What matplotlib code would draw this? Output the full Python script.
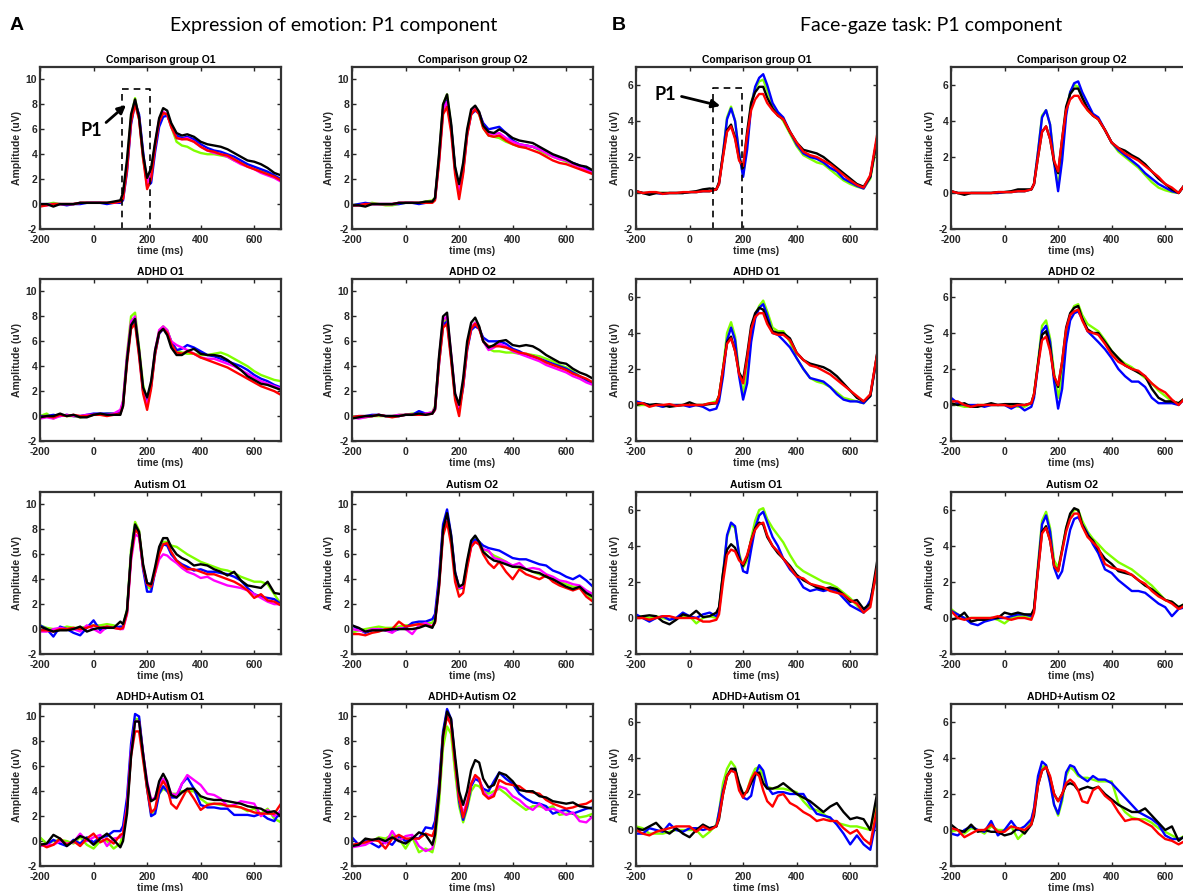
import matplotlib.pyplot as plt

plt.rcParams['font.family'] = ['Liberation Sans', 'DejaVu Sans']
plt.rcParams['axes.unicode_minus'] = False

# sample times (ms): baseline every 25 ms, denser around P1/P2, then every 25 ms
time_ms = [-200, -175, -150, -125, -100, -75, -50, -25, 0, 25, 50, 75, 100,
           110, 125, 140, 155, 170, 185, 200, 215, 230, 245, 260, 275, 290,
           310, 330, 350, 375, 400, 425, 450, 475, 500, 525, 550, 575, 600, 625, 650, 675, 700]

# ---------------- Expression of emotion (A) ----------------
emo_ctrl_o1_green = [-0.1, 0.0, 0.1, 0.0, 0.0, 0.0, 0.1, 0.1, 0.1, 0.1, 0.1, 0.1, 0.2,
                     0.6, 3.2, 7.0, 8.5, 6.8, 3.6, 1.9, 2.6, 4.8, 6.7, 7.3, 7.2, 6.2,
                     5.0, 4.7, 4.6, 4.3, 4.1, 4.0, 4.0, 3.9, 3.8, 3.5, 3.3, 3.1, 2.9, 2.7, 2.5, 2.2, 1.9]
emo_ctrl_o1_blue = [0.0, 0.0, 0.0, 0.0, -0.1, 0.0, 0.0, 0.1, 0.1, 0.1, 0.0, 0.1, 0.1,
                    0.3, 2.6, 6.4, 8.1, 7.2, 4.2, 1.4, 1.7, 4.2, 6.2, 7.0, 7.1, 6.4,
                    5.5, 5.3, 5.4, 5.2, 4.8, 4.5, 4.3, 4.2, 4.0, 3.8, 3.5, 3.2, 3.0, 2.8, 2.6, 2.3, 2.0]
emo_ctrl_o1_magenta = [-0.1, -0.1, 0.0, 0.0, 0.0, 0.0, 0.1, 0.1, 0.1, 0.1, 0.1, 0.1, 0.2,
                       0.5, 3.0, 6.8, 8.3, 6.9, 3.8, 1.7, 2.4, 4.8, 6.8, 7.4, 7.2, 6.2,
                       5.3, 5.2, 5.3, 5.0, 4.6, 4.3, 4.1, 4.0, 3.8, 3.5, 3.2, 3.0, 2.8, 2.5, 2.3, 2.1, 1.8]
emo_ctrl_o1_red = [-0.2, -0.1, 0.0, 0.0, 0.0, 0.0, 0.1, 0.1, 0.1, 0.1, 0.1, 0.1, 0.2,
                   0.4, 2.8, 6.6, 8.0, 6.8, 3.7, 1.2, 2.0, 4.6, 6.6, 7.3, 7.2, 6.2,
                   5.3, 5.2, 5.2, 5.0, 4.6, 4.3, 4.2, 4.0, 3.9, 3.6, 3.3, 3.0, 2.8, 2.6, 2.4, 2.2, 1.9]
emo_ctrl_o1_black = [0.0, 0.0, -0.2, 0.0, 0.0, 0.0, 0.1, 0.1, 0.1, 0.1, 0.1, 0.2, 0.3,
                     0.9, 3.6, 7.2, 8.4, 7.0, 4.0, 2.1, 2.9, 5.0, 6.9, 7.7, 7.5, 6.5,
                     5.7, 5.5, 5.6, 5.4, 5.0, 4.8, 4.7, 4.6, 4.4, 4.1, 3.8, 3.5, 3.4, 3.2, 2.9, 2.5, 2.3]

emo_ctrl_o2_green = [-0.1, 0.0, 0.0, 0.1, 0.0, -0.1, -0.1, 0.0, 0.1, 0.1, 0.1, 0.2, 0.3,
                     0.5, 3.8, 8.0, 8.8, 6.3, 2.8, 1.2, 3.0, 5.8, 7.4, 7.8, 7.2, 6.1,
                     5.5, 5.4, 5.3, 5.0, 4.8, 4.6, 4.7, 4.6, 4.3, 4.0, 3.8, 3.6, 3.4, 3.2, 3.0, 2.8, 2.6]
emo_ctrl_o2_blue = [-0.1, 0.0, 0.1, 0.0, 0.0, 0.0, 0.0, 0.0, 0.1, 0.1, 0.0, 0.1, 0.2,
                    0.4, 3.5, 7.6, 8.3, 6.3, 2.8, 0.8, 2.6, 5.6, 7.2, 7.5, 7.3, 6.5,
                    6.0, 6.1, 6.2, 5.7, 5.1, 4.8, 4.7, 4.6, 4.4, 4.2, 3.9, 3.7, 3.5, 3.3, 3.1, 2.8, 2.5]
emo_ctrl_o2_magenta = [-0.1, -0.1, 0.0, 0.0, 0.0, 0.0, 0.0, 0.1, 0.1, 0.1, 0.1, 0.1, 0.2,
                       0.4, 3.6, 7.6, 8.2, 6.1, 2.7, 1.0, 2.8, 5.7, 7.3, 7.7, 7.3, 6.3,
                       5.7, 5.6, 5.7, 5.3, 5.0, 4.8, 4.7, 4.6, 4.4, 4.1, 3.8, 3.6, 3.5, 3.2, 3.0, 2.7, 2.5]
emo_ctrl_o2_red = [-0.1, -0.1, 0.0, 0.0, 0.0, 0.0, 0.0, 0.1, 0.1, 0.1, 0.1, 0.1, 0.1,
                   0.3, 3.3, 7.2, 7.8, 5.8, 2.4, 0.4, 2.4, 5.5, 7.2, 7.6, 7.2, 6.1,
                   5.5, 5.4, 5.5, 5.1, 4.8, 4.6, 4.5, 4.3, 4.1, 3.8, 3.5, 3.3, 3.2, 3.0, 2.8, 2.6, 2.4]
emo_ctrl_o2_black = [-0.1, -0.1, -0.2, 0.0, 0.0, 0.0, 0.0, 0.1, 0.1, 0.1, 0.1, 0.2, 0.2,
                     0.5, 4.0, 8.0, 8.8, 6.5, 3.0, 1.6, 3.3, 6.0, 7.6, 7.9, 7.4, 6.3,
                     5.8, 5.7, 6.0, 5.7, 5.3, 5.1, 5.0, 4.9, 4.6, 4.3, 4.0, 3.8, 3.6, 3.3, 3.1, 3.0, 2.7]

emo_adhd_o1_green = [0.0, 0.2, -0.2, 0.1, 0.0, 0.0, -0.1, 0.0, 0.1, 0.1, 0.2, 0.2, 0.3,
                     1.2, 5.0, 8.0, 8.3, 5.5, 2.5, 1.2, 2.5, 5.2, 6.8, 7.2, 6.9, 6.0,
                     5.3, 5.1, 5.0, 5.0, 4.9, 4.9, 5.0, 5.1, 4.9, 4.6, 4.3, 4.0, 3.6, 3.3, 3.1, 2.9, 2.8]
emo_adhd_o1_blue = [0.0, 0.0, 0.1, 0.0, 0.1, 0.0, 0.0, 0.1, 0.2, 0.2, 0.2, 0.2, 0.3,
                    1.0, 4.5, 7.2, 7.6, 5.0, 2.0, 1.0, 2.4, 5.0, 6.6, 7.0, 6.8, 6.0,
                    5.3, 5.4, 5.7, 5.5, 5.2, 4.9, 4.8, 4.6, 4.4, 4.2, 4.0, 3.7, 3.3, 3.0, 2.8, 2.5, 2.3]
emo_adhd_o1_magenta = [-0.2, -0.1, -0.2, 0.0, 0.1, 0.0, 0.0, 0.1, 0.1, 0.1, 0.1, 0.2, 0.5,
                       1.2, 4.8, 7.6, 8.0, 5.2, 2.0, 0.8, 2.5, 5.3, 6.9, 7.2, 6.9, 6.0,
                       5.7, 5.5, 5.3, 5.0, 4.7, 4.6, 4.6, 4.4, 4.2, 4.0, 3.7, 3.4, 3.1, 2.8, 2.6, 2.4, 2.2]
emo_adhd_o1_red = [-0.1, 0.0, -0.1, 0.1, 0.0, 0.1, 0.0, 0.0, 0.1, 0.1, 0.0, 0.1, 0.2,
                   0.8, 4.2, 7.0, 7.4, 4.8, 1.8, 0.5, 2.2, 5.0, 6.7, 7.0, 6.7, 5.8,
                   5.1, 5.0, 5.2, 5.0, 4.7, 4.5, 4.3, 4.1, 3.9, 3.6, 3.3, 3.0, 2.7, 2.4, 2.2, 2.0, 1.7]
emo_adhd_o1_black = [-0.1, 0.0, 0.0, 0.2, 0.0, 0.1, -0.1, -0.1, 0.1, 0.2, 0.1, 0.1, 0.1,
                     0.8, 4.5, 7.3, 7.8, 5.3, 2.3, 1.5, 2.8, 5.3, 6.7, 7.0, 6.5, 5.5,
                     4.9, 4.9, 5.2, 5.4, 5.0, 4.9, 4.9, 4.8, 4.5, 4.1, 3.7, 3.2, 2.9, 2.6, 2.5, 2.3, 2.1]

emo_adhd_o2_green = [0.0, -0.1, -0.1, 0.0, 0.0, 0.0, 0.0, 0.1, 0.1, 0.2, 0.2, 0.2, 0.3,
                     0.8, 4.6, 7.5, 7.8, 4.8, 1.6, 0.5, 2.6, 5.6, 7.1, 7.5, 7.1, 6.0,
                     5.4, 5.2, 5.2, 5.1, 5.1, 5.0, 5.0, 4.9, 4.8, 4.6, 4.4, 4.1, 3.9, 3.6, 3.2, 2.9, 2.6]
emo_adhd_o2_blue = [-0.1, 0.0, 0.0, 0.1, 0.1, 0.0, 0.0, 0.0, 0.1, 0.1, 0.4, 0.2, 0.2,
                    0.5, 4.2, 7.3, 7.6, 4.8, 1.6, 0.5, 2.3, 5.3, 6.9, 7.2, 7.0, 6.3,
                    6.0, 6.0, 6.0, 5.8, 5.4, 5.2, 4.9, 4.8, 4.6, 4.4, 4.2, 4.0, 3.8, 3.5, 3.2, 2.9, 2.6]
emo_adhd_o2_magenta = [-0.1, -0.2, -0.1, 0.0, 0.1, 0.0, 0.0, 0.1, 0.1, 0.1, 0.1, 0.2, 0.3,
                       0.7, 4.6, 7.7, 8.0, 5.0, 1.8, 0.7, 2.6, 5.6, 7.1, 7.5, 7.1, 6.0,
                       5.3, 5.5, 5.8, 5.6, 5.2, 5.0, 4.8, 4.6, 4.4, 4.1, 3.9, 3.7, 3.5, 3.2, 3.0, 2.7, 2.5]
emo_adhd_o2_red = [-0.1, 0.0, 0.0, 0.0, 0.1, 0.0, -0.1, 0.0, 0.1, 0.1, 0.1, 0.1, 0.2,
                   0.5, 4.2, 7.1, 7.4, 4.5, 1.3, 0.0, 2.4, 5.4, 7.0, 7.4, 7.0, 6.0,
                   5.6, 5.6, 5.6, 5.5, 5.3, 5.1, 5.0, 4.8, 4.6, 4.3, 4.1, 3.9, 3.7, 3.4, 3.2, 3.0, 2.7]
emo_adhd_o2_black = [-0.2, -0.1, 0.0, 0.0, 0.1, 0.0, 0.0, 0.0, 0.1, 0.1, 0.2, 0.1, 0.2,
                     0.6, 4.8, 8.0, 8.3, 5.0, 1.8, 0.9, 3.0, 6.0, 7.5, 7.9, 7.2, 6.0,
                     5.5, 5.7, 6.0, 6.1, 5.7, 5.6, 5.7, 5.6, 5.3, 4.9, 4.6, 4.3, 4.2, 3.8, 3.5, 3.3, 3.0]

emo_asd_o1_green = [0.3, 0.1, 0.0, 0.0, 0.2, 0.1, 0.1, 0.2, 0.3, 0.3, 0.4, 0.3, 0.1,
                    0.2, 1.6, 6.4, 8.6, 7.9, 5.0, 3.4, 3.2, 4.8, 6.4, 7.0, 7.0, 6.7,
                    6.6, 6.3, 6.0, 5.7, 5.4, 5.2, 5.0, 4.8, 4.7, 4.5, 4.2, 4.0, 3.8, 3.8, 3.6, 2.8, 2.0]
emo_asd_o1_blue = [0.3, 0.0, -0.6, 0.2, 0.0, -0.3, -0.5, 0.1, 0.7, -0.1, 0.1, 0.1, 0.2,
                   0.2, 1.4, 6.0, 8.3, 7.6, 4.8, 3.0, 3.0, 4.6, 6.2, 6.8, 6.7, 6.0,
                   5.5, 5.2, 5.0, 4.7, 4.8, 4.6, 4.6, 4.5, 4.4, 4.2, 3.9, 3.3, 2.8, 2.6, 2.5, 2.4, 2.0]
emo_asd_o1_magenta = [-0.2, -0.2, 0.0, 0.1, 0.0, 0.0, -0.2, 0.3, 0.0, -0.3, 0.2, 0.1, 0.0,
                      0.0, 1.2, 5.5, 7.6, 7.4, 5.0, 3.6, 3.6, 4.5, 5.6, 6.0, 5.9, 5.6,
                      5.3, 4.9, 4.6, 4.4, 4.1, 4.2, 3.9, 3.7, 3.5, 3.4, 3.3, 3.1, 2.8, 2.5, 2.2, 2.0, 2.0]
emo_asd_o1_red = [-0.1, -0.1, -0.2, 0.0, 0.0, 0.1, 0.0, 0.1, 0.3, 0.1, 0.2, 0.1, 0.0,
                  0.1, 1.3, 5.8, 8.0, 7.6, 5.0, 3.6, 3.4, 4.6, 6.0, 6.8, 6.9, 6.2,
                  5.5, 5.1, 4.8, 4.8, 4.6, 4.4, 4.4, 4.2, 4.0, 3.8, 3.5, 3.1, 2.5, 2.8, 2.3, 2.2, 1.9]
emo_asd_o1_black = [0.2, 0.0, -0.2, -0.1, -0.1, 0.0, 0.2, -0.2, 0.0, 0.1, 0.1, 0.1, 0.6,
                    0.4, 1.5, 6.0, 8.4, 7.8, 5.2, 3.7, 3.6, 5.0, 6.6, 7.3, 7.3, 6.6,
                    6.0, 5.7, 5.5, 5.1, 5.2, 5.1, 4.8, 4.6, 4.3, 4.6, 3.9, 3.5, 3.4, 3.3, 3.8, 2.9, 2.8]

emo_asd_o2_green = [-0.3, -0.1, 0.0, 0.1, 0.2, 0.1, 0.1, 0.2, 0.3, 0.3, 0.4, 0.5, 0.5,
                    1.0, 3.8, 7.8, 9.0, 7.2, 4.4, 3.2, 3.4, 5.3, 6.9, 7.3, 7.0, 6.4,
                    6.2, 5.9, 5.7, 5.4, 5.0, 4.9, 4.8, 4.6, 4.4, 4.2, 4.0, 3.8, 3.6, 3.4, 3.3, 2.8, 2.4]
emo_asd_o2_blue = [0.3, 0.0, -0.3, -0.1, 0.0, -0.1, -0.2, 0.0, 0.1, 0.5, 0.6, 0.6, 0.8,
                   1.2, 4.2, 8.4, 9.6, 7.6, 4.6, 3.3, 3.3, 5.2, 6.8, 7.2, 7.0, 6.7,
                   6.5, 6.4, 6.3, 6.0, 5.7, 5.6, 5.6, 5.4, 5.2, 5.1, 4.7, 4.5, 4.2, 4.0, 4.3, 3.9, 3.4]
emo_asd_o2_magenta = [0.0, -0.1, -0.2, 0.0, 0.0, -0.1, -0.3, 0.1, 0.0, -0.4, 0.3, 0.5, 0.2,
                      0.6, 3.6, 7.8, 9.0, 7.2, 4.4, 3.3, 3.4, 5.1, 6.6, 7.0, 6.8, 6.4,
                      6.3, 5.7, 5.6, 5.4, 5.1, 5.3, 4.8, 4.9, 4.8, 4.4, 4.2, 3.9, 3.8, 3.6, 3.5, 3.1, 2.8]
emo_asd_o2_red = [-0.4, -0.4, -0.5, -0.3, -0.2, 0.0, 0.0, 0.6, 0.2, 0.3, 0.4, 0.3, 0.2,
                  0.5, 3.3, 7.5, 8.6, 6.8, 3.8, 2.6, 2.9, 4.9, 6.6, 7.0, 6.8, 6.0,
                  5.3, 4.9, 5.4, 4.6, 4.0, 4.8, 4.4, 4.2, 4.0, 4.3, 3.8, 3.5, 3.3, 3.1, 3.3, 2.6, 2.2]
emo_asd_o2_black = [0.3, 0.1, -0.2, -0.1, -0.1, -0.1, 0.0, 0.0, 0.0, 0.0, 0.1, 0.3, 0.1,
                    0.6, 3.5, 8.0, 9.3, 7.5, 4.5, 3.4, 3.6, 5.5, 7.1, 7.5, 7.0, 6.2,
                    5.8, 5.5, 5.4, 5.2, 5.0, 5.0, 4.8, 4.6, 4.5, 4.2, 4.0, 3.7, 3.4, 3.2, 3.4, 2.9, 2.6]

emo_both_o1_green = [0.3, -0.2, 0.0, 0.1, 0.0, -0.2, 0.3, -0.3, -0.6, 0.0, 0.0, -0.6, -0.2,
                     0.6, 2.8, 7.2, 9.8, 9.8, 6.8, 4.2, 2.2, 2.5, 3.8, 4.2, 4.0, 3.8,
                     3.8, 4.0, 4.0, 4.0, 3.4, 3.0, 3.0, 2.9, 2.9, 2.8, 2.7, 2.4, 2.6, 2.2, 2.6, 1.8, 1.5]
emo_both_o1_blue = [-0.3, -0.3, 0.1, -0.2, -0.4, 0.1, -0.2, 0.3, -0.1, 0.3, 0.4, 0.8, 0.8,
                    1.2, 3.5, 7.8, 10.2, 10.0, 7.0, 4.2, 2.0, 2.2, 3.8, 4.4, 4.0, 3.5,
                    3.5, 4.6, 5.1, 4.2, 2.9, 2.7, 2.7, 2.6, 2.6, 2.1, 2.1, 2.1, 2.0, 2.2, 1.8, 1.6, 2.5]
emo_both_o1_magenta = [-0.4, -0.3, -0.3, 0.0, -0.2, -0.1, 0.6, 0.0, 0.3, 0.5, -0.4, 0.2, 0.3,
                       0.6, 2.8, 7.2, 9.6, 9.6, 7.0, 4.8, 3.3, 3.5, 4.6, 5.0, 4.6, 3.8,
                       3.7, 4.6, 5.3, 4.9, 4.5, 3.8, 3.7, 3.4, 2.8, 2.9, 3.2, 3.1, 3.0, 2.0, 2.5, 2.0, 2.4]
emo_both_o1_red = [-0.2, -0.5, -0.3, 0.2, -0.3, 0.0, -0.4, 0.2, 0.6, -0.1, 0.2, -0.2, 0.5,
                   0.6, 2.6, 6.8, 8.8, 8.8, 6.5, 4.2, 2.3, 2.6, 4.2, 4.8, 4.3, 3.0,
                   2.6, 3.4, 4.2, 3.4, 2.5, 2.9, 3.0, 3.0, 2.8, 2.8, 2.7, 2.5, 2.3, 2.2, 2.2, 2.2, 3.0]
emo_both_o1_black = [-0.3, -0.2, 0.5, 0.2, -0.4, 0.0, 0.4, 0.2, -0.3, 0.2, 0.6, 0.1, -0.5,
                     0.0, 2.2, 6.8, 9.6, 9.6, 7.0, 4.6, 3.2, 3.4, 4.8, 5.4, 4.8, 3.7,
                     3.5, 3.9, 4.2, 4.2, 3.6, 3.4, 3.3, 3.3, 3.2, 3.1, 3.0, 2.8, 2.7, 2.6, 2.3, 2.4, 2.0]

emo_both_o2_green = [-0.4, -0.3, -0.1, 0.0, 0.3, 0.2, 0.5, 0.2, -0.6, 0.3, -0.9, -0.6, -0.9,
                     0.0, 3.0, 7.5, 9.2, 8.6, 5.5, 2.8, 1.5, 2.6, 4.0, 4.5, 4.4, 4.0,
                     3.8, 4.0, 4.2, 3.8, 3.3, 2.9, 2.5, 2.8, 2.8, 2.6, 2.8, 2.1, 2.2, 2.2, 1.9, 2.0, 2.2]
emo_both_o2_blue = [0.3, -0.3, 0.1, -0.2, -0.5, 0.0, -0.3, 0.4, 0.0, 0.3, 0.2, 1.1, 1.0,
                    1.6, 4.6, 8.8, 10.6, 9.8, 6.4, 3.2, 1.7, 2.8, 4.4, 5.0, 4.8, 4.2,
                    4.0, 4.8, 5.5, 5.0, 4.6, 3.8, 3.4, 3.1, 3.0, 2.8, 2.2, 2.4, 2.5, 2.2, 2.4, 2.6, 2.7]
emo_both_o2_magenta = [-0.5, -0.4, -0.3, 0.0, 0.2, -0.2, 0.8, 0.0, 0.4, 0.5, -0.4, -0.8, -0.6,
                       0.6, 3.8, 8.4, 10.2, 9.6, 6.4, 3.5, 2.2, 3.2, 4.6, 5.2, 5.0, 4.0,
                       3.5, 3.8, 4.4, 4.2, 3.6, 3.3, 2.8, 2.5, 3.0, 2.5, 2.6, 2.4, 2.1, 2.3, 1.6, 1.5, 2.0]
emo_both_o2_red = [-0.3, -0.2, -0.1, 0.1, 0.0, -0.6, 0.2, 0.5, 0.2, 0.2, 0.2, 0.6, 0.4,
                   1.0, 4.0, 8.4, 10.0, 9.3, 6.3, 3.5, 1.9, 3.0, 4.6, 5.3, 5.0, 3.8,
                   3.4, 3.6, 4.9, 4.6, 4.5, 4.4, 4.0, 3.9, 3.8, 3.3, 3.0, 2.8, 2.6, 2.7, 2.9, 3.0, 3.3]
emo_both_o2_black = [-0.4, -0.3, 0.2, 0.1, 0.2, 0.0, 0.3, 0.0, -0.2, 0.2, 0.7, 0.5, -0.3,
                     0.5, 3.8, 8.5, 10.4, 9.8, 6.8, 4.0, 2.9, 4.0, 5.7, 6.5, 6.3, 5.0,
                     4.3, 4.5, 5.5, 5.3, 4.8, 4.1, 4.0, 4.0, 3.6, 3.5, 3.2, 3.1, 3.0, 3.1, 2.8, 2.7, 2.6]

# ---------------- Face-gaze task (B) ----------------
gaze_ctrl_o1_green = [0.1, 0.0, 0.0, 0.0, 0.0, 0.0, 0.0, 0.0, 0.05, 0.05, 0.1, 0.1, 0.2,
                      0.5, 2.2, 4.2, 4.8, 4.0, 2.2, 1.0, 2.8, 5.0, 5.8, 6.2, 6.3, 5.7,
                      4.9, 4.4, 4.0, 3.3, 2.6, 2.1, 1.9, 1.7, 1.6, 1.3, 1.0, 0.7, 0.5, 0.35, 0.25, 0.8, 2.8]
gaze_ctrl_o1_blue = [0.1, 0.0, 0.0, 0.0, -0.05, 0.0, 0.0, 0.0, 0.05, 0.05, 0.1, 0.1, 0.2,
                     0.5, 2.2, 4.1, 4.7, 4.0, 2.2, 0.9, 2.4, 4.8, 5.9, 6.4, 6.6, 6.0,
                     5.0, 4.5, 4.2, 3.4, 2.7, 2.2, 2.0, 1.9, 1.7, 1.4, 1.2, 0.8, 0.6, 0.4, 0.25, 0.9, 3.0]
gaze_ctrl_o1_black = [0.1, 0.0, -0.1, 0.0, 0.0, 0.0, 0.0, 0.0, 0.05, 0.1, 0.2, 0.25, 0.2,
                      0.6, 2.1, 3.5, 3.8, 3.1, 1.9, 1.4, 3.4, 5.0, 5.6, 5.9, 5.9, 5.3,
                      4.7, 4.3, 4.1, 3.4, 2.8, 2.4, 2.3, 2.2, 2.0, 1.7, 1.4, 1.1, 0.8, 0.5, 0.35, 0.9, 3.0]
gaze_ctrl_o1_red = [0.1, 0.0, 0.05, 0.05, -0.05, 0.0, 0.0, 0.05, 0.05, 0.05, 0.1, 0.1, 0.2,
                    0.5, 2.0, 3.4, 3.7, 3.0, 1.8, 1.5, 3.2, 4.6, 5.2, 5.5, 5.5, 5.0,
                    4.6, 4.3, 4.1, 3.4, 2.8, 2.3, 2.1, 2.0, 1.8, 1.6, 1.3, 1.0, 0.7, 0.45, 0.3, 1.0, 3.2]

gaze_ctrl_o2_green = [0.1, 0.0, 0.0, 0.0, 0.0, 0.0, 0.0, 0.0, 0.05, 0.05, 0.1, 0.1, 0.2,
                      0.5, 2.3, 4.3, 4.6, 3.8, 1.8, 0.3, 2.2, 4.6, 5.6, 6.0, 5.9, 5.3,
                      4.6, 4.3, 4.1, 3.5, 2.8, 2.3, 2.0, 1.7, 1.4, 1.0, 0.6, 0.3, 0.15, 0.05, 0.0, 0.5, 2.8]
gaze_ctrl_o2_blue = [0.1, 0.0, 0.0, 0.0, 0.0, 0.0, 0.0, 0.0, 0.05, 0.05, 0.1, 0.1, 0.2,
                     0.5, 2.3, 4.2, 4.6, 3.8, 1.7, 0.1, 1.8, 4.3, 5.6, 6.1, 6.2, 5.6,
                     5.0, 4.4, 4.2, 3.5, 2.8, 2.4, 2.1, 1.8, 1.5, 1.1, 0.8, 0.5, 0.3, 0.1, 0.0, 0.5, 2.8]
gaze_ctrl_o2_black = [0.1, 0.0, -0.1, 0.0, 0.0, 0.0, 0.0, 0.05, 0.05, 0.1, 0.2, 0.2, 0.2,
                      0.5, 2.0, 3.4, 3.7, 3.0, 1.7, 1.1, 3.0, 4.8, 5.5, 5.8, 5.8, 5.3,
                      4.7, 4.3, 4.1, 3.5, 2.8, 2.5, 2.35, 2.1, 1.9, 1.6, 1.2, 0.8, 0.5, 0.2, 0.0, 0.5, 2.8]
gaze_ctrl_o2_red = [0.1, 0.0, 0.0, 0.0, 0.0, 0.0, 0.0, 0.05, 0.05, 0.05, 0.1, 0.1, 0.2,
                    0.5, 2.0, 3.4, 3.7, 3.0, 1.8, 1.2, 3.0, 4.6, 5.2, 5.4, 5.4, 5.0,
                    4.6, 4.3, 4.1, 3.5, 2.8, 2.5, 2.2, 2.0, 1.8, 1.5, 1.2, 0.9, 0.5, 0.3, 0.0, 0.5, 2.8]

gaze_adhd_o1_green = [0.0, 0.0, 0.0, 0.0, -0.1, 0.0, 0.0, 0.0, 0.0, 0.0, 0.0, 0.1, 0.2,
                      0.5, 2.0, 4.0, 4.6, 3.8, 1.8, 0.7, 1.8, 4.0, 5.0, 5.5, 5.8, 5.2,
                      4.3, 4.1, 4.1, 3.5, 2.6, 2.0, 1.5, 1.3, 1.2, 1.0, 0.7, 0.4, 0.3, 0.2, 0.1, 0.5, 2.7]
gaze_adhd_o1_blue = [0.2, 0.1, 0.0, 0.0, -0.1, 0.0, 0.0, 0.0, -0.1, 0.0, -0.1, -0.3, -0.2,
                     0.2, 1.6, 3.6, 4.3, 3.6, 1.6, 0.3, 1.2, 3.5, 4.8, 5.4, 5.6, 5.0,
                     4.0, 3.9, 3.6, 3.2, 2.6, 2.0, 1.5, 1.4, 1.3, 1.0, 0.6, 0.3, 0.2, 0.2, 0.1, 0.5, 2.7]
gaze_adhd_o1_black = [0.0, 0.1, 0.0, 0.05, 0.0, -0.1, -0.05, 0.0, 0.15, 0.0, 0.0, 0.05, 0.1,
                      0.5, 2.0, 3.5, 3.8, 3.0, 1.8, 1.4, 2.8, 4.4, 5.1, 5.4, 5.3, 4.7,
                      4.1, 4.0, 4.0, 3.7, 2.9, 2.5, 2.3, 2.2, 2.1, 1.9, 1.6, 1.2, 0.8, 0.4, 0.2, 0.5, 2.8]
gaze_adhd_o1_red = [0.1, 0.1, -0.1, 0.0, 0.0, 0.05, -0.05, 0.0, 0.0, 0.0, 0.0, 0.1, 0.1,
                    0.5, 2.0, 3.4, 3.7, 3.0, 1.7, 1.2, 2.6, 4.2, 4.9, 5.1, 5.1, 4.5,
                    4.0, 3.9, 3.9, 3.6, 2.9, 2.5, 2.2, 2.1, 1.9, 1.7, 1.4, 1.1, 0.8, 0.5, 0.2, 0.6, 2.8]

gaze_adhd_o2_green = [0.1, 0.0, -0.1, -0.1, 0.0, 0.0, 0.0, 0.0, 0.0, 0.0, -0.1, -0.1, 0.1,
                      0.6, 2.4, 4.4, 4.7, 3.7, 1.8, 0.4, 1.6, 3.9, 5.0, 5.5, 5.6, 5.0,
                      4.5, 4.3, 4.1, 3.6, 3.0, 2.6, 2.3, 2.1, 1.8, 1.5, 1.2, 0.8, 0.5, 0.2, 0.1, 0.4, 2.6]
gaze_adhd_o2_blue = [0.4, 0.1, 0.0, 0.0, 0.0, -0.1, 0.0, 0.0, 0.0, -0.2, 0.0, -0.3, -0.1,
                     0.4, 2.2, 4.1, 4.4, 3.5, 1.3, -0.2, 0.9, 3.4, 4.7, 5.1, 5.2, 4.8,
                     4.1, 3.8, 3.5, 3.1, 2.6, 2.0, 1.6, 1.3, 1.3, 1.0, 0.4, 0.1, 0.1, 0.1, 0.0, 0.4, 2.6]
gaze_adhd_o2_black = [0.1, 0.0, 0.1, -0.1, -0.1, 0.0, 0.1, 0.0, 0.05, 0.05, 0.05, 0.0, 0.1,
                      0.6, 2.3, 3.9, 4.1, 3.2, 1.6, 1.0, 2.4, 4.3, 5.1, 5.4, 5.5, 4.8,
                      4.2, 4.0, 4.0, 3.5, 3.0, 2.6, 2.2, 2.0, 1.8, 1.6, 0.9, 0.4, 0.2, 0.2, 0.1, 0.4, 2.6]
gaze_adhd_o2_red = [0.2, 0.2, 0.0, -0.1, 0.0, 0.0, 0.0, 0.0, 0.0, -0.1, 0.0, 0.0, 0.1,
                    0.6, 2.2, 3.6, 3.8, 3.0, 1.6, 1.1, 2.4, 4.2, 5.0, 5.2, 5.3, 4.7,
                    4.1, 4.0, 3.9, 3.4, 2.8, 2.4, 2.2, 2.0, 1.9, 1.6, 1.2, 0.9, 0.7, 0.3, 0.0, 0.4, 2.6]

gaze_asd_o1_green = [0.1, 0.1, 0.0, 0.1, 0.0, -0.1, 0.0, 0.1, 0.1, -0.3, 0.0, 0.1, 0.0,
                     0.5, 2.5, 4.5, 5.2, 5.0, 3.6, 2.8, 3.2, 4.4, 5.4, 6.0, 6.1, 5.5,
                     5.0, 4.6, 4.2, 3.5, 2.9, 2.6, 2.4, 2.2, 2.0, 1.9, 1.7, 1.4, 1.1, 0.7, 0.3, 0.8, 2.6]
gaze_asd_o1_blue = [0.2, 0.0, -0.2, 0.0, 0.1, -0.1, 0.0, 0.3, 0.1, 0.0, 0.2, 0.3, 0.1,
                    0.4, 2.4, 4.6, 5.3, 5.1, 3.5, 2.6, 2.5, 3.8, 5.0, 5.7, 5.9, 5.3,
                    4.5, 4.0, 3.3, 2.7, 2.3, 1.7, 1.5, 1.6, 1.5, 1.6, 1.5, 1.1, 0.7, 0.5, 0.3, 1.0, 2.6]
gaze_asd_o1_black = [0.0, 0.1, 0.15, 0.1, -0.2, -0.35, -0.1, 0.2, 0.1, 0.4, 0.05, 0.1, 0.3,
                     0.6, 2.5, 3.8, 4.1, 3.9, 3.3, 2.9, 3.4, 4.3, 5.0, 5.3, 5.2, 4.5,
                     4.0, 3.6, 3.3, 2.9, 2.4, 2.1, 1.9, 1.7, 1.6, 1.7, 1.6, 1.3, 0.9, 1.0, 0.5, 0.8, 3.1]
gaze_asd_o1_red = [0.0, 0.0, -0.1, 0.0, 0.1, 0.1, 0.0, 0.0, 0.0, 0.0, -0.2, -0.2, -0.1,
                   0.2, 2.0, 3.5, 3.8, 3.7, 3.2, 3.0, 3.5, 4.3, 4.9, 5.2, 5.3, 4.6,
                   4.0, 3.7, 3.3, 2.8, 2.3, 2.2, 1.9, 1.8, 1.7, 1.5, 1.4, 1.3, 1.0, 0.8, 0.3, 0.6, 2.8]

gaze_asd_o2_green = [0.5, 0.2, 0.0, 0.0, 0.0, 0.0, 0.0, -0.1, -0.3, 0.0, 0.1, 0.1, 0.0,
                     0.5, 3.0, 5.4, 5.9, 5.0, 3.2, 2.8, 3.8, 5.0, 5.7, 6.0, 6.0, 5.4,
                     4.8, 4.4, 4.1, 3.7, 3.4, 3.1, 2.9, 2.7, 2.4, 2.1, 1.8, 1.4, 1.0, 0.9, 0.6, 0.8, 2.5]
gaze_asd_o2_blue = [0.4, 0.2, 0.0, -0.3, -0.4, -0.2, -0.1, 0.0, 0.0, 0.1, 0.2, 0.2, 0.1,
                    0.4, 2.8, 5.2, 5.7, 4.8, 2.8, 2.2, 2.6, 3.8, 4.9, 5.5, 5.6, 5.2,
                    4.7, 4.1, 3.6, 2.7, 2.5, 2.1, 1.8, 1.5, 1.5, 1.4, 1.1, 0.8, 0.6, 0.1, 0.5, 0.6, 2.5]
gaze_asd_o2_black = [-0.1, 0.0, 0.3, -0.2, -0.1, -0.1, 0.0, 0.0, 0.3, 0.2, 0.3, 0.2, 0.2,
                     0.5, 2.7, 4.8, 5.1, 4.3, 2.9, 2.6, 3.8, 5.0, 5.8, 6.1, 6.0, 5.2,
                     4.6, 4.3, 3.8, 3.3, 3.0, 2.6, 2.5, 2.4, 2.1, 1.8, 1.6, 1.3, 1.0, 0.9, 0.6, 0.8, 2.5]
gaze_asd_o2_red = [0.4, 0.0, -0.1, 0.0, 0.0, 0.0, 0.0, 0.1, 0.0, -0.1, 0.0, 0.0, -0.1,
                   0.3, 2.6, 4.7, 5.0, 4.3, 2.9, 2.6, 3.7, 4.8, 5.5, 5.8, 5.8, 5.1,
                   4.5, 4.2, 3.9, 3.0, 2.8, 2.7, 2.6, 2.4, 2.1, 1.9, 1.5, 1.2, 1.0, 0.8, 0.5, 0.7, 2.5]

gaze_both_o1_green = [0.2, 0.1, -0.2, -0.2, -0.2, -0.1, 0.0, 0.0, 0.0, 0.0, -0.4, -0.1, 0.3,
                      1.0, 2.6, 3.4, 3.8, 3.5, 2.4, 1.9, 2.2, 2.9, 3.4, 3.5, 3.0, 2.4,
                      2.3, 2.3, 2.3, 2.2, 2.1, 1.6, 1.2, 1.1, 0.9, 0.6, 0.4, 0.3, 0.2, 0.2, 0.1, 0.0, 1.6]
gaze_both_o1_blue = [-0.2, -0.2, 0.1, 0.0, -0.1, 0.35, 0.0, -0.1, 0.1, 0.1, 0.0, 0.1, 0.2,
                     1.0, 2.2, 3.0, 3.3, 3.4, 2.4, 1.8, 1.7, 1.9, 3.0, 3.6, 3.3, 2.4,
                     2.0, 2.1, 2.1, 2.0, 2.0, 2.0, 1.4, 0.9, 0.8, 0.7, 0.3, -0.2, -0.8, -0.3, -0.8, -1.1, 0.8]
gaze_both_o1_black = [0.1, 0.0, 0.2, 0.4, 0.0, -0.2, 0.1, -0.2, -0.4, 0.0, 0.3, 0.1, 0.2,
                      0.6, 2.0, 3.0, 3.4, 3.4, 2.6, 2.0, 2.1, 2.6, 3.1, 3.2, 2.6, 2.3,
                      2.3, 2.4, 2.6, 2.3, 2.0, 1.8, 1.6, 1.3, 1.0, 1.3, 1.5, 1.0, 0.6, 0.7, 0.6, 0.0, 2.0]
gaze_both_o1_red = [0.0, -0.2, -0.3, -0.1, 0.0, 0.1, 0.2, 0.2, 0.2, -0.1, 0.2, 0.0, 0.2,
                    0.7, 2.0, 3.0, 3.3, 3.2, 2.2, 1.8, 2.2, 2.8, 3.2, 3.0, 2.2, 1.6,
                    1.3, 1.9, 2.0, 1.5, 1.3, 1.0, 0.8, 0.5, 0.6, 0.5, 0.5, 0.1, -0.2, 0.0, -0.5, -0.8, 1.2]

gaze_both_o2_green = [-0.1, 0.0, -0.2, 0.1, 0.0, -0.2, 0.2, 0.0, 0.0, 0.2, -0.5, -0.1, 0.5,
                      1.2, 2.8, 3.5, 3.6, 2.8, 1.4, 0.8, 1.6, 3.0, 3.5, 3.3, 3.0, 2.9,
                      2.9, 2.8, 2.7, 2.7, 2.7, 1.5, 1.0, 0.7, 0.6, 0.6, 0.4, 0.1, -0.1, -0.3, -0.5, -0.3, 0.5]
gaze_both_o2_blue = [-0.2, -0.3, 0.0, 0.2, 0.0, -0.1, 0.5, -0.3, 0.0, 0.5, 0.0, 0.2, 0.6,
                     1.2, 3.0, 3.8, 3.6, 2.6, 1.4, 0.9, 1.8, 3.2, 3.6, 3.5, 3.1, 2.9,
                     2.7, 3.0, 2.8, 2.8, 2.6, 2.2, 1.8, 1.4, 1.0, 0.8, 0.6, 0.3, -0.3, -0.5, -0.5, -0.4, 0.5]
gaze_both_o2_black = [0.3, 0.0, -0.1, 0.3, -0.1, 0.0, -0.1, -0.1, -0.3, -0.2, 0.1, -0.2, 0.3,
                      0.8, 2.5, 3.3, 3.5, 2.9, 2.0, 1.6, 2.0, 2.5, 2.6, 2.5, 2.2, 2.3,
                      2.4, 2.3, 2.4, 2.0, 1.7, 1.4, 1.2, 1.0, 1.0, 1.2, 0.8, 0.4, 0.0, 0.2, -0.6, -0.3, 0.5]
gaze_both_o2_red = [0.1, 0.0, -0.4, -0.2, 0.0, 0.0, 0.3, -0.1, -0.1, 0.2, 0.1, 0.0, 0.3,
                    1.0, 2.5, 3.3, 3.5, 3.0, 2.0, 1.6, 2.0, 2.6, 2.8, 2.6, 2.2, 1.6,
                    1.5, 2.2, 2.4, 1.9, 1.6, 1.0, 0.5, 0.6, 0.6, 0.4, 0.2, -0.2, -0.5, -0.6, -0.8, -0.6, 0.5]

group_titles = ['Comparison group', 'ADHD', 'Autism', 'ADHD+Autism']

emo_colors = ['#80ff00', '#0000ff', '#ff00ff', '#ff0000', 'black']
gaze_colors = ['#80ff00', '#0000ff', 'black', '#ff0000']

emo_rows = [
    [[emo_ctrl_o1_green, emo_ctrl_o1_blue, emo_ctrl_o1_magenta, emo_ctrl_o1_red, emo_ctrl_o1_black],
     [emo_ctrl_o2_green, emo_ctrl_o2_blue, emo_ctrl_o2_magenta, emo_ctrl_o2_red, emo_ctrl_o2_black]],
    [[emo_adhd_o1_green, emo_adhd_o1_blue, emo_adhd_o1_magenta, emo_adhd_o1_red, emo_adhd_o1_black],
     [emo_adhd_o2_green, emo_adhd_o2_blue, emo_adhd_o2_magenta, emo_adhd_o2_red, emo_adhd_o2_black]],
    [[emo_asd_o1_green, emo_asd_o1_blue, emo_asd_o1_magenta, emo_asd_o1_red, emo_asd_o1_black],
     [emo_asd_o2_green, emo_asd_o2_blue, emo_asd_o2_magenta, emo_asd_o2_red, emo_asd_o2_black]],
    [[emo_both_o1_green, emo_both_o1_blue, emo_both_o1_magenta, emo_both_o1_red, emo_both_o1_black],
     [emo_both_o2_green, emo_both_o2_blue, emo_both_o2_magenta, emo_both_o2_red, emo_both_o2_black]],
]
gaze_rows = [
    [[gaze_ctrl_o1_green, gaze_ctrl_o1_blue, gaze_ctrl_o1_black, gaze_ctrl_o1_red],
     [gaze_ctrl_o2_green, gaze_ctrl_o2_blue, gaze_ctrl_o2_black, gaze_ctrl_o2_red]],
    [[gaze_adhd_o1_green, gaze_adhd_o1_blue, gaze_adhd_o1_black, gaze_adhd_o1_red],
     [gaze_adhd_o2_green, gaze_adhd_o2_blue, gaze_adhd_o2_black, gaze_adhd_o2_red]],
    [[gaze_asd_o1_green, gaze_asd_o1_blue, gaze_asd_o1_black, gaze_asd_o1_red],
     [gaze_asd_o2_green, gaze_asd_o2_blue, gaze_asd_o2_black, gaze_asd_o2_red]],
    [[gaze_both_o1_green, gaze_both_o1_blue, gaze_both_o1_black, gaze_both_o1_red],
     [gaze_both_o2_green, gaze_both_o2_blue, gaze_both_o2_black, gaze_both_o2_red]],
]

W, H = 1183, 891
fig = plt.figure(figsize=(W / 100, H / 100), dpi=100)

col_left = [40, 352, 636, 951]
row_top = [67, 279, 492, 704]
ax_w, ax_h = 241, 162
TXT = '#262626'


def make_axes(col, row):
    return fig.add_axes([col_left[col] / W, 1 - (row_top[row] + ax_h) / H, ax_w / W, ax_h / H])


def draw_panel(ax, title, series, colors, ymax, yticks):
    for y, c in zip(series, colors):
        ax.plot(time_ms, y, color=c, lw=1.7, solid_joinstyle='round')
    ax.set_xlim(-200, 700)
    ax.set_ylim(-2, ymax)
    ax.set_xticks([-200, 0, 200, 400, 600])
    ax.set_yticks(yticks)
    ax.tick_params(direction='in', top=True, right=True, length=3, width=1,
                   labelsize=7.5, pad=2, colors=TXT)
    ax.tick_params(axis='x', pad=4)
    for lab in ax.get_xticklabels() + ax.get_yticklabels():
        lab.set_fontweight('bold')
    for sp in ax.spines.values():
        sp.set_linewidth(1.6)
        sp.set_color('#333333')
    ax.set_title(title, fontsize=7.5, fontweight='bold', pad=3, color='black')
    ax.set_xlabel('time (ms)', fontsize=7.5, fontweight='bold', labelpad=1, color=TXT)
    ax.set_ylabel('Amplitude (uV)', fontsize=7.5, fontweight='bold', labelpad=3, color=TXT)


axes = {}
for r in range(4):
    for k in range(2):
        ax = make_axes(k, r)
        draw_panel(ax, group_titles[r] + ' O' + str(k + 1), emo_rows[r][k], emo_colors,
                   11, [-2, 0, 2, 4, 6, 8, 10])
        axes[(r, k)] = ax
        ax = make_axes(k + 2, r)
        draw_panel(ax, group_titles[r] + ' O' + str(k + 1), gaze_rows[r][k], gaze_colors,
                   7, [-2, 0, 2, 4, 6])
        axes[(r, k + 2)] = ax

# P1 window markers
ax = axes[(0, 0)]
ax.plot([105, 105, 210, 210], [-2, 9.25, 9.25, -2], ls='--', color='black', lw=1.2,
        dashes=(4, 3), clip_on=False)
ax.plot([105, 210], [-2, -2], ls='--', color='black', lw=1.2, dashes=(4, 3), clip_on=False)
ax.annotate('', xy=(129, 8.1), xytext=(39, 6.4),
            arrowprops=dict(arrowstyle='-|>', color='black', lw=2, mutation_scale=12))
ax.text(-8, 5.9, 'P1', fontsize=13, fontweight='bold', family=['Lato', 'DejaVu Sans'],
        ha='center', va='center')

ax = axes[(0, 2)]
ax.plot([87, 87, 195, 195], [-2, 5.85, 5.85, -2], ls='--', color='black', lw=1.2,
        dashes=(4, 3), clip_on=False)
ax.plot([87, 195], [-2, -2], ls='--', color='black', lw=1.2, dashes=(4, 3), clip_on=False)
ax.annotate('', xy=(125, 4.8), xytext=(-40, 5.4),
            arrowprops=dict(arrowstyle='-|>', color='black', lw=2, mutation_scale=12))
ax.text(-90, 5.45, 'P1', fontsize=13, fontweight='bold', family=['Lato', 'DejaVu Sans'],
        ha='center', va='center')

# section headers
fig.text(10 / W, 1 - 25 / H, 'A', fontsize=14, fontweight='bold', va='center', ha='left')
fig.text(170 / W, 1 - 25 / H, 'Expression of emotion: P1 component', fontsize=14,
         family=['Lato', 'DejaVu Sans'], va='center', ha='left')
fig.text(612 / W, 1 - 25 / H, 'B', fontsize=14, fontweight='bold', va='center', ha='left')
fig.text(800 / W, 1 - 25 / H, 'Face-gaze task: P1 component', fontsize=14,
         family=['Lato', 'DejaVu Sans'], va='center', ha='left')

fig.savefig('out.png', dpi=100)
